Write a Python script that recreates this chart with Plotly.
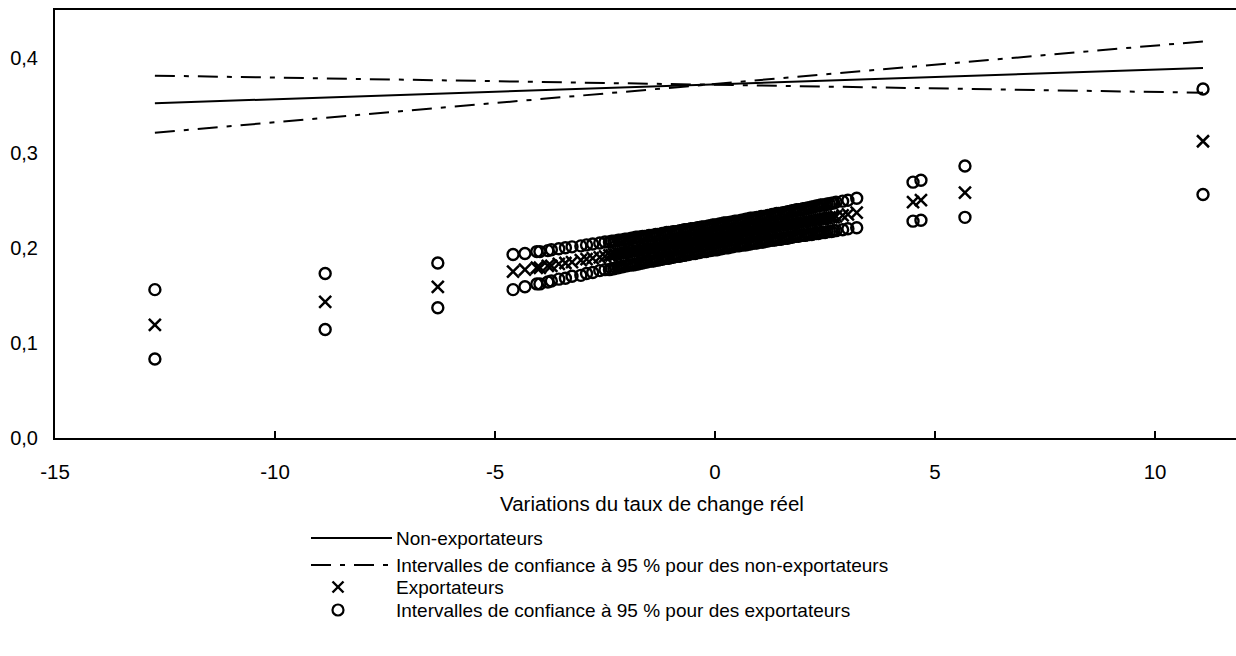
import plotly.graph_objects as go

W, H = 1236, 656
ML, MR, MT, MB = 55, 0, 10, 218
PW, PH = W - ML - MR, H - MT - MB
FONT = "Liberation Sans, Arial, sans-serif"

# Real exchange-rate changes observed for exporters
rer_change = [
    -12.73, -8.86, -6.30,
    -4.59, -4.32, -4.05, -3.98, -3.80, -3.72, -3.55, -3.40, -3.25, -3.05,
    -2.92, -2.78, -2.62, -2.50,
    -2.40, -2.35, -2.30, -2.25, -2.20, -2.15, -2.10, -2.05, -2.00, -1.95,
    -1.90, -1.85, -1.80, -1.75, -1.70, -1.65, -1.60, -1.55, -1.50, -1.45,
    -1.40, -1.35, -1.30, -1.25, -1.20, -1.15, -1.10, -1.05, -1.00, -0.95,
    -0.90, -0.85, -0.80, -0.75, -0.70, -0.65, -0.60, -0.55, -0.50, -0.45,
    -0.40, -0.35, -0.30, -0.25, -0.20, -0.15, -0.10, -0.05, 0.00, 0.05,
    0.10, 0.15, 0.20, 0.25, 0.30, 0.35, 0.40, 0.45, 0.50, 0.55,
    0.60, 0.65, 0.70, 0.75, 0.80, 0.85, 0.90, 0.95, 1.00, 1.05,
    1.10, 1.15, 1.20, 1.25, 1.30, 1.35, 1.40, 1.45, 1.50, 1.55,
    1.60, 1.65, 1.70, 1.75, 1.80, 1.85, 1.90, 1.95, 2.00, 2.05,
    2.10, 2.15, 2.20, 2.25, 2.30, 2.35, 2.40, 2.45, 2.50, 2.55,
    2.60, 2.65, 2.70,
    2.75, 2.90, 3.02, 3.22,
    4.50, 4.68, 5.68, 11.09,
]

# Predicted probability for exporters
exporters = [
    0.119, 0.143, 0.159,
    0.175, 0.177, 0.179, 0.179, 0.181, 0.181, 0.183, 0.184, 0.185, 0.187,
    0.188, 0.189, 0.190, 0.191,
    0.192, 0.192, 0.193, 0.193, 0.194, 0.194, 0.194, 0.195, 0.195, 0.196,
    0.196, 0.196, 0.197, 0.197, 0.197, 0.198, 0.198, 0.199, 0.199, 0.199,
    0.200, 0.200, 0.201, 0.201, 0.201, 0.202, 0.202, 0.203, 0.203, 0.203,
    0.204, 0.204, 0.205, 0.205, 0.205, 0.206, 0.206, 0.207, 0.207, 0.207,
    0.208, 0.208, 0.209, 0.209, 0.209, 0.210, 0.210, 0.211, 0.211, 0.211,
    0.212, 0.212, 0.213, 0.213, 0.213, 0.214, 0.214, 0.215, 0.215, 0.215,
    0.216, 0.216, 0.217, 0.217, 0.217, 0.218, 0.218, 0.219, 0.219, 0.219,
    0.220, 0.220, 0.221, 0.221, 0.221, 0.222, 0.222, 0.223, 0.223, 0.223,
    0.224, 0.224, 0.225, 0.225, 0.225, 0.226, 0.226, 0.227, 0.227, 0.227,
    0.228, 0.228, 0.228, 0.229, 0.229, 0.230, 0.230, 0.230, 0.231, 0.231,
    0.232, 0.232, 0.232,
    0.233, 0.234, 0.235, 0.237,
    0.248, 0.250, 0.258, 0.312,
]

# 95 % confidence bounds for exporters
exporters_upper = [
    0.156, 0.173, 0.184,
    0.193, 0.194, 0.196, 0.196, 0.197, 0.198, 0.199, 0.200, 0.201, 0.202,
    0.203, 0.204, 0.205, 0.206,
    0.206, 0.207, 0.207, 0.207, 0.208, 0.208, 0.208, 0.209, 0.209, 0.209,
    0.210, 0.210, 0.211, 0.211, 0.211, 0.212, 0.212, 0.212, 0.213, 0.213,
    0.213, 0.214, 0.214, 0.214, 0.215, 0.215, 0.216, 0.216, 0.216, 0.217,
    0.217, 0.217, 0.218, 0.218, 0.219, 0.219, 0.219, 0.220, 0.220, 0.220,
    0.221, 0.221, 0.222, 0.222, 0.222, 0.223, 0.223, 0.224, 0.224, 0.224,
    0.225, 0.225, 0.226, 0.226, 0.226, 0.227, 0.227, 0.228, 0.228, 0.228,
    0.229, 0.229, 0.230, 0.230, 0.231, 0.231, 0.231, 0.232, 0.232, 0.233,
    0.233, 0.233, 0.234, 0.234, 0.235, 0.235, 0.236, 0.236, 0.236, 0.237,
    0.237, 0.238, 0.238, 0.239, 0.239, 0.240, 0.240, 0.240, 0.241, 0.241,
    0.242, 0.242, 0.243, 0.243, 0.244, 0.244, 0.245, 0.245, 0.245, 0.246,
    0.246, 0.247, 0.247,
    0.248, 0.249, 0.250, 0.252,
    0.269, 0.271, 0.286, 0.367,
]
exporters_lower = [
    0.083, 0.114, 0.137,
    0.156, 0.159, 0.162, 0.162, 0.164, 0.165, 0.167, 0.168, 0.170, 0.171,
    0.173, 0.174, 0.176, 0.177,
    0.177, 0.178, 0.178, 0.179, 0.179, 0.180, 0.180, 0.181, 0.181, 0.182,
    0.182, 0.182, 0.183, 0.183, 0.184, 0.184, 0.185, 0.185, 0.186, 0.186,
    0.186, 0.187, 0.187, 0.188, 0.188, 0.189, 0.189, 0.189, 0.190, 0.190,
    0.191, 0.191, 0.191, 0.192, 0.192, 0.193, 0.193, 0.194, 0.194, 0.194,
    0.195, 0.195, 0.196, 0.196, 0.196, 0.197, 0.197, 0.198, 0.198, 0.198,
    0.199, 0.199, 0.200, 0.200, 0.200, 0.201, 0.201, 0.202, 0.202, 0.202,
    0.203, 0.203, 0.203, 0.204, 0.204, 0.205, 0.205, 0.205, 0.206, 0.206,
    0.206, 0.207, 0.207, 0.208, 0.208, 0.208, 0.209, 0.209, 0.209, 0.210,
    0.210, 0.210, 0.211, 0.211, 0.212, 0.212, 0.212, 0.213, 0.213, 0.213,
    0.214, 0.214, 0.214, 0.215, 0.215, 0.215, 0.216, 0.216, 0.216, 0.217,
    0.217, 0.217, 0.218,
    0.218, 0.219, 0.220, 0.221,
    0.228, 0.229, 0.232, 0.256,
]

# Non-exporters: fitted line and its 95 % interval
nonexp_x = [-12.73, 11.09]
nonexporters = [0.352, 0.389]
nonexp_ci_a = [0.381, 0.363]
nonexp_ci_b = [0.321, 0.417]

x_ticks = [-15, -10, -5, 0, 5, 10]
x_tick_labels = ["-15", "-10", "-5", "0", "5", "10"]
y_ticks = [0.0, 0.1, 0.2, 0.3, 0.4]
y_tick_labels = ["0,0", "0,1", "0,2", "0,3", "0,4"]

x_title = "Variations du taux de change réel"
legend_labels = [
    "Non-exportateurs",
    "Intervalles de confiance à 95 % pour des non-exportateurs",
    "Exportateurs",
    "Intervalles de confiance à 95 % pour des exportateurs",
]

DASHDOT = "20px,9px,5px,9px"
BLACK = "#000000"


def px_x(px):
    """Figure pixel column -> paper x."""
    return (px - ML) / PW


def px_y(py):
    """Figure pixel row -> paper y."""
    return (H - MB - py) / PH


fig = go.Figure()

line_style = dict(color=BLACK, width=2)
dash_style = dict(color=BLACK, width=2, dash=DASHDOT)
fig.add_trace(go.Scatter(x=nonexp_x, y=nonexporters, mode="lines",
                         line=line_style, showlegend=False))
for ci in (nonexp_ci_a, nonexp_ci_b):
    fig.add_trace(go.Scatter(x=nonexp_x, y=ci, mode="lines",
                             line=dash_style, showlegend=False))

circle = dict(symbol="circle-open", size=11, color=BLACK,
              line=dict(color=BLACK, width=2.4))
cross = dict(symbol="x-thin-open", size=12, color=BLACK,
             line=dict(color=BLACK, width=2.5))

fig.add_trace(go.Scatter(x=rer_change, y=exporters, mode="markers",
                         marker=cross, showlegend=False))
fig.add_trace(go.Scatter(x=rer_change, y=exporters_upper, mode="markers",
                         marker=circle, showlegend=False))
fig.add_trace(go.Scatter(x=rer_change, y=exporters_lower, mode="markers",
                         marker=circle, showlegend=False))

# Key below the chart
key_rows = [538, 565, 587, 610]
key_line = (311, 392)
key_marker_x = 338
text_x = 394

shapes = [
    dict(type="line", xref="paper", yref="paper",
         x0=px_x(key_line[0]), x1=px_x(key_line[1]),
         y0=px_y(key_rows[0]), y1=px_y(key_rows[0]), line=line_style),
    dict(type="line", xref="paper", yref="paper",
         x0=px_x(key_line[0]), x1=px_x(key_line[1]),
         y0=px_y(key_rows[1]), y1=px_y(key_rows[1]), line=dash_style),
]
# cross glyph
for sx in (-1, 1):
    shapes.append(dict(type="line", xref="paper", yref="paper",
                       xsizemode="pixel", ysizemode="pixel",
                       xanchor=px_x(key_marker_x), yanchor=px_y(key_rows[2]),
                       x0=-5.5, x1=5.5, y0=-5.5 * sx, y1=5.5 * sx,
                       line=dict(color=BLACK, width=2.4)))
# circle glyph
shapes.append(dict(type="circle", xref="paper", yref="paper",
                   xsizemode="pixel", ysizemode="pixel",
                   xanchor=px_x(key_marker_x), yanchor=px_y(key_rows[3]),
                   x0=-5.5, x1=5.5, y0=-5.5, y1=5.5,
                   line=dict(color=BLACK, width=2.2)))

annotations = []
for label, row in zip(legend_labels, key_rows):
    annotations.append(dict(x=px_x(text_x), y=px_y(row), xref="paper",
                            yref="paper", text=label, showarrow=False,
                            xanchor="left", yanchor="middle",
                            font=dict(family=FONT, size=19, color=BLACK)))
annotations.append(dict(x=px_x(652), y=px_y(503), xref="paper", yref="paper",
                        text=x_title, showarrow=False,
                        xanchor="center", yanchor="middle",
                        font=dict(family=FONT, size=20.5, color=BLACK)))

fig.update_layout(
    width=W, height=H,
    margin=dict(l=ML, r=MR, t=MT, b=MB, autoexpand=False),
    paper_bgcolor="white", plot_bgcolor="white",
    font=dict(family=FONT, size=20, color=BLACK),
    shapes=shapes,
    annotations=annotations,
    xaxis=dict(
        range=[-15, 11.84],
        tickvals=x_ticks, ticktext=x_tick_labels,
        ticks="inside", ticklen=7, tickwidth=1.5, tickcolor=BLACK,
        tickfont=dict(family=FONT, size=20.5, color=BLACK),
        showline=True, linewidth=2, linecolor=BLACK, mirror=True,
        showgrid=False, zeroline=False,
        ticklabelstandoff=14, automargin=False, fixedrange=True,
    ),
    yaxis=dict(
        range=[0, 0.45],
        tickvals=y_ticks, ticktext=y_tick_labels, ticks="",
        tickfont=dict(family=FONT, size=20, color=BLACK),
        showline=True, linewidth=2, linecolor=BLACK, mirror=False,
        showgrid=False, zeroline=False, ticklabelstandoff=11,
        automargin=False, fixedrange=True,
    ),
)

fig.write_html("out.html", config={"displayModeBar": False})
